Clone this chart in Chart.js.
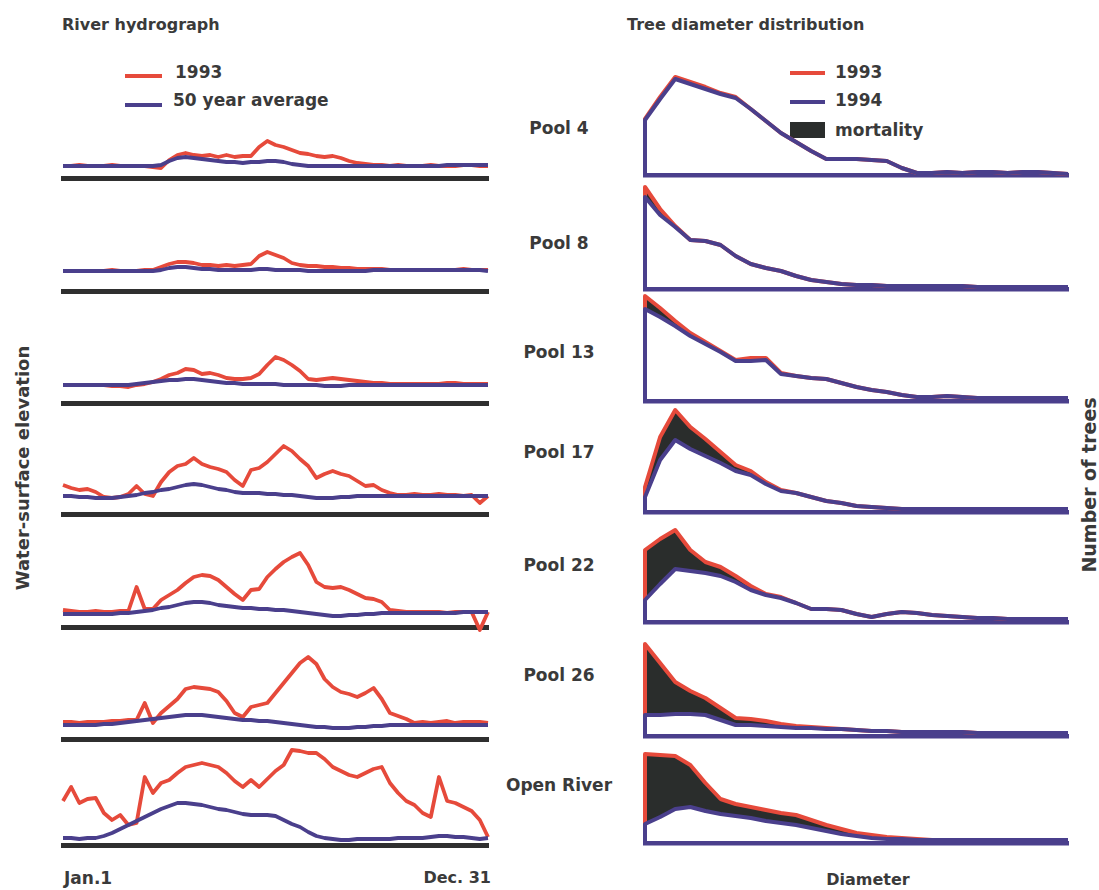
<!DOCTYPE html>
<html><head><meta charset="utf-8">
<script src="https://cdn.jsdelivr.net/npm/chart.js@4.4.1/dist/chart.umd.min.js"></script>
<style>
html,body{margin:0;padding:0;background:#fff;}
#wrap{position:relative;width:1099px;height:890px;overflow:hidden;font-family:"DejaVu Sans",sans-serif;font-weight:700;color:#3a3a3a;}
.t{position:absolute;white-space:nowrap;line-height:1;}
canvas{position:absolute;}
</style></head><body><div id="wrap"></div>
<script>
// ---------- categories ----------
const pools = ['Pool 4','Pool 8','Pool 13','Pool 17','Pool 22','Pool 26','Open River'];
const days = [1,8,15,22,29,36,43,50,57,64,71,78,85,92,99,106,113,120,127,134,141,148,155,162,169,176,183,190,197,204,211,218,225,232,239,246,253,260,267,274,281,288,295,302,309,316,323,330,337,344,351,358,365];
const diam = [0,2,4,6,8,10,12,14,16,18,20,22,24,26,28,30,32,34,36,38,40,42,44,46,48,50,52,54,56];

// ---------- river hydrograph (relative water-surface elevation) ----------
const lvl93_p4  = [12,12,13,12,12,12,13,12,12,12,12,11,10,18,23,25,23,22,23,21,23,21,22,22,31,37,33,31,28,25,24,22,21,22,20,17,15,14,13,13,12,13,12,12,12,13,12,12,12,13,13,12,12];
const lvlAvg_p4 = [12,12,12,12,12,12,12,12,12,12,12,12,13,17,20,21,20,19,18,17,16,16,15,16,16,17,17,16,14,13,12,12,12,12,12,12,12,12,12,12,12,12,12,12,12,12,12,13,13,13,13,13,13];
const lvl93_p8  = [20,20,20,20,20,20,21,20,20,20,21,21,24,27,29,29,28,26,26,25,26,25,26,27,35,39,36,33,28,26,25,25,24,24,23,23,22,22,22,22,21,21,21,21,21,21,21,21,21,22,21,21,21];
const lvlAvg_p8 = [20,20,20,20,20,20,20,20,20,20,20,20,21,23,24,24,23,22,22,21,21,21,21,21,22,22,21,21,21,21,20,20,20,20,20,20,20,20,21,21,21,21,21,21,21,21,21,21,21,21,21,21,20];
const lvl93_p13 = [18,18,18,18,18,18,17,17,16,18,19,21,24,28,30,34,33,29,30,28,25,24,24,25,29,38,46,43,38,32,24,23,24,25,24,23,22,21,20,20,19,19,19,19,19,19,19,20,20,19,19,19,19];
const lvlAvg_p13= [18,18,18,18,18,18,18,18,18,19,20,21,22,23,23,24,24,23,22,21,20,20,19,19,19,19,19,18,18,18,18,18,17,17,17,18,18,18,18,18,18,18,18,18,18,18,18,18,18,18,18,18,18];
const lvl93_p17 = [29,26,24,25,22,17,16,17,20,28,20,18,32,42,48,50,56,50,47,45,42,34,28,44,46,52,60,68,63,55,48,36,40,43,40,38,33,28,29,24,21,19,19,20,19,19,20,19,19,18,19,11,18];
const lvlAvg_p17= [18,18,17,17,16,16,16,17,18,19,21,22,24,25,27,29,30,29,27,25,24,22,21,21,21,20,20,19,19,18,17,16,16,16,17,17,18,18,18,18,18,18,18,18,18,18,18,18,18,18,18,18,18];
const lvl93_p22 = [17,16,15,15,16,15,15,16,16,40,18,18,27,32,37,44,50,52,51,47,40,33,27,37,38,50,58,65,70,74,62,45,40,39,40,37,33,29,28,25,17,16,15,15,15,15,15,14,15,15,15,-3,15];
const lvlAvg_p22= [13,13,13,13,13,13,13,14,14,15,16,17,19,20,22,24,25,25,24,22,21,20,19,19,18,18,17,17,16,15,14,13,12,11,11,12,12,13,13,14,14,14,14,14,14,14,14,14,14,15,15,15,15];
const lvl93_p26 = [17,17,16,17,17,17,18,18,19,19,36,16,26,33,40,50,52,51,50,47,38,26,22,32,34,36,46,56,66,76,82,75,60,52,47,45,42,46,51,40,26,23,20,16,17,16,17,18,16,17,17,17,16];
const lvlAvg_p26= [14,14,14,14,14,15,15,16,17,18,19,20,21,22,23,24,24,24,23,22,21,20,19,19,18,18,17,16,15,14,13,12,12,11,11,11,12,12,13,13,14,14,14,14,14,14,14,14,14,14,14,14,14];
const lvl93_or  = [44,58,42,46,47,32,25,30,20,22,68,52,62,65,72,78,80,82,80,78,72,64,58,65,58,66,74,80,95,94,92,92,86,78,74,70,68,72,76,78,62,52,44,40,32,28,68,44,42,38,34,25,8];
const lvlAvg_or = [7,7,6,7,7,9,12,16,20,24,28,32,36,39,42,42,41,40,38,36,35,33,31,30,30,30,29,25,21,18,13,9,7,6,5,5,6,6,6,6,6,7,7,7,7,8,9,9,8,8,7,6,7];

// ---------- tree diameter distribution (number of trees) ----------
const trees93_p4  = [56,78,98,93,88,82,78,66,54,42,33,24,16,16,16,15,14,7,2,2,3,2,3,3,2,3,3,2,1];
const trees94_p4  = [55,76,96,91,86,81,77,66,54,42,33,24,16,16,16,15,14,7,2,2,3,2,3,3,2,3,3,2,1];
const trees93_p8  = [102,80,63,49,48,44,33,25,21,18,13,9,7,5,4,4,3,3,3,3,3,3,2,2,2,2,2,2,2];
const trees94_p8  = [92,74,62,49,48,44,33,25,21,18,13,9,7,5,4,4,3,3,3,3,3,3,2,2,2,2,2,2,2];
const trees93_p13 = [105,93,80,68,59,50,41,43,43,28,25,23,22,18,14,11,9,6,4,4,5,4,3,3,3,3,3,3,3];
const trees94_p13 = [92,84,75,65,57,49,40,40,41,27,25,23,22,18,14,11,9,6,4,4,5,4,3,3,3,3,3,3,3];
const trees93_p17 = [25,75,102,85,73,60,47,41,30,22,19,15,11,9,6,5,4,3,3,3,3,3,3,3,3,3,3,3,3];
const trees94_p17 = [15,52,72,63,56,49,41,37,28,21,19,15,11,9,6,5,4,3,3,3,3,3,3,3,3,3,3,3,3];
const trees93_p22 = [72,83,92,72,60,55,46,36,28,25,19,13,13,12,8,5,8,10,9,7,6,5,4,4,3,3,3,3,3];
const trees94_p22 = [22,38,53,51,49,46,40,32,27,24,19,13,13,12,8,5,8,10,9,7,6,5,4,4,3,3,3,3,3];
const trees93_p26 = [92,73,54,45,38,28,18,17,15,12,10,9,8,7,6,5,5,4,4,4,4,4,3,3,3,3,3,3,3];
const trees94_p26 = [21,21,22,22,21,16,11,11,10,9,8,8,7,7,6,5,5,4,4,4,4,4,3,3,3,3,3,3,3];
const trees93_or  = [89,88,87,78,60,44,39,36,33,30,28,23,18,14,10,8,6,5,4,3,3,3,3,3,3,3,3,3,3];
const trees94_or  = [19,26,34,36,32,29,27,25,22,20,18,15,12,9,7,5,4,4,3,3,3,3,3,3,3,3,3,3,3];

// ---------- table built from the arrays ----------
const rows = [
  {name:pools[0], a:lvl93_p4,  b:lvlAvg_p4,  t93:trees93_p4,  t94:trees94_p4},
  {name:pools[1], a:lvl93_p8,  b:lvlAvg_p8,  t93:trees93_p8,  t94:trees94_p8},
  {name:pools[2], a:lvl93_p13, b:lvlAvg_p13, t93:trees93_p13, t94:trees94_p13},
  {name:pools[3], a:lvl93_p17, b:lvlAvg_p17, t93:trees93_p17, t94:trees94_p17},
  {name:pools[4], a:lvl93_p22, b:lvlAvg_p22, t93:trees93_p22, t94:trees94_p22},
  {name:pools[5], a:lvl93_p26, b:lvlAvg_p26, t93:trees93_p26, t94:trees94_p26},
  {name:pools[6], a:lvl93_or,  b:lvlAvg_or,  t93:trees93_or,  t94:trees94_or}
];

// ---------- styling / layout ----------
const RED = '#e64a3b', BLUE = '#4a3f8c', MORT = '#2a2d2c', BAR = '#2f2f2f';
const leftBase  = [178,291,403,514,627,739,845];
const rightBase = [175,289,401,512,622,736,843];
const labelY    = [128,243,352,452,565,675,785];
const wrap = document.getElementById('wrap');

function txt(s, x, y, size, opts={}) {
  const d = document.createElement('div');
  d.className = 't';
  d.textContent = s;
  d.style.fontSize = size + 'px';
  d.style.left = x + 'px';
  d.style.top = y + 'px';
  let tf = opts.center ? 'translate(-50%,-50%)' : (opts.right ? 'translate(-100%,-50%)' : 'translateY(-50%)');
  if (opts.rot) tf += ' rotate(-90deg)';
  d.style.transform = tf;
  wrap.appendChild(d);
  return d;
}
function box(x, y, w, h, c) {
  const d = document.createElement('div');
  d.style.cssText = `position:absolute;left:${x}px;top:${y}px;width:${w}px;height:${h}px;background:${c};`;
  wrap.appendChild(d);
}
function makeCanvas(left, top, w, h) {
  const c = document.createElement('canvas');
  c.width = w; c.height = h;
  c.style.left = left + 'px'; c.style.top = top + 'px';
  c.style.width = w + 'px'; c.style.height = h + 'px';
  wrap.appendChild(c);
  return c;
}

// titles, legends, axis labels
txt('River hydrograph', 62, 25, 16);
txt('Tree diameter distribution', 627, 25, 16);
box(125, 74, 37, 4, RED);  txt('1993', 175, 72, 17);
box(125, 103, 37, 4, BLUE); txt('50 year average', 173, 100, 17);
box(790, 71, 35, 4, RED);  txt('1993', 835, 72, 17);
box(790, 100, 35, 4, BLUE); txt('1994', 835, 100, 17);
box(790, 122, 35, 16, MORT); txt('mortality', 835, 130, 17);
txt('Water-surface elevation', 23, 468, 18, {center:true, rot:true});
txt('Number of trees', 1089, 485, 19, {center:true, rot:true});
txt('Jan.1', 64, 878, 17);
txt('Dec. 31', 491, 878, 16, {right:true});
txt('Diameter', 868, 880, 16, {center:true});

const H = 116, PADB = 6, YMAX = 110;
rows.forEach((r, i) => {
  txt(r.name, 559, labelY[i], 17, {center:true});

  // hydrograph
  const cl = makeCanvas(60, leftBase[i] - YMAX, 430, H);
  new Chart(cl, {
    type: 'line',
    data: { datasets: [
      {label:'1993', data: days.map((d,k)=>({x:d, y:r.a[k]})), borderColor:RED, borderWidth:3.8, pointRadius:0, order:2, clip:false, borderJoinStyle:'round'},
      {label:'50 year average', data: days.map((d,k)=>({x:d, y:r.b[k]})), borderColor:BLUE, borderWidth:3.8, pointRadius:0, order:1, clip:false, borderJoinStyle:'round'}
    ]},
    options: {
      responsive:false, animation:false, devicePixelRatio:1,
      layout:{padding:{left:3, right:2, top:0, bottom:PADB}},
      plugins:{legend:{display:false}, tooltip:{enabled:false}},
      scales:{
        x:{type:'linear', min:1, max:365, display:true, grid:{display:false, drawTicks:false}, ticks:{display:false}, border:{display:true, color:BAR, width:5}},
        y:{min:0, max:YMAX, display:false}
      }
    }
  });

  // tree diameter distribution
  const cr = makeCanvas(640, rightBase[i] - YMAX, 435, H);
  new Chart(cr, {
    type: 'line',
    data: { datasets: [
      {label:'1993', data: [{x:0,y:0}].concat(diam.map((d,k)=>({x:d, y:r.t93[k]}))), borderColor:RED, borderWidth:4, pointRadius:0, order:2, clip:false, fill:'+1', backgroundColor:MORT, borderJoinStyle:'round'},
      {label:'1994', data: [{x:0,y:0}].concat(diam.map((d,k)=>({x:d, y:r.t94[k]}))), borderColor:BLUE, borderWidth:4, pointRadius:0, order:1, clip:false, fill:false, borderJoinStyle:'round'}
    ]},
    options: {
      responsive:false, animation:false, devicePixelRatio:1,
      layout:{padding:{left:5, right:7, top:0, bottom:PADB}},
      plugins:{legend:{display:false}, tooltip:{enabled:false}},
      scales:{
        x:{type:'linear', min:0, max:56, display:true, grid:{display:false, drawTicks:false}, ticks:{display:false}, border:{display:true, color:BLUE, width:4.5}},
        y:{min:0, max:YMAX, display:false}
      }
    }
  });
});
</script></body></html>
